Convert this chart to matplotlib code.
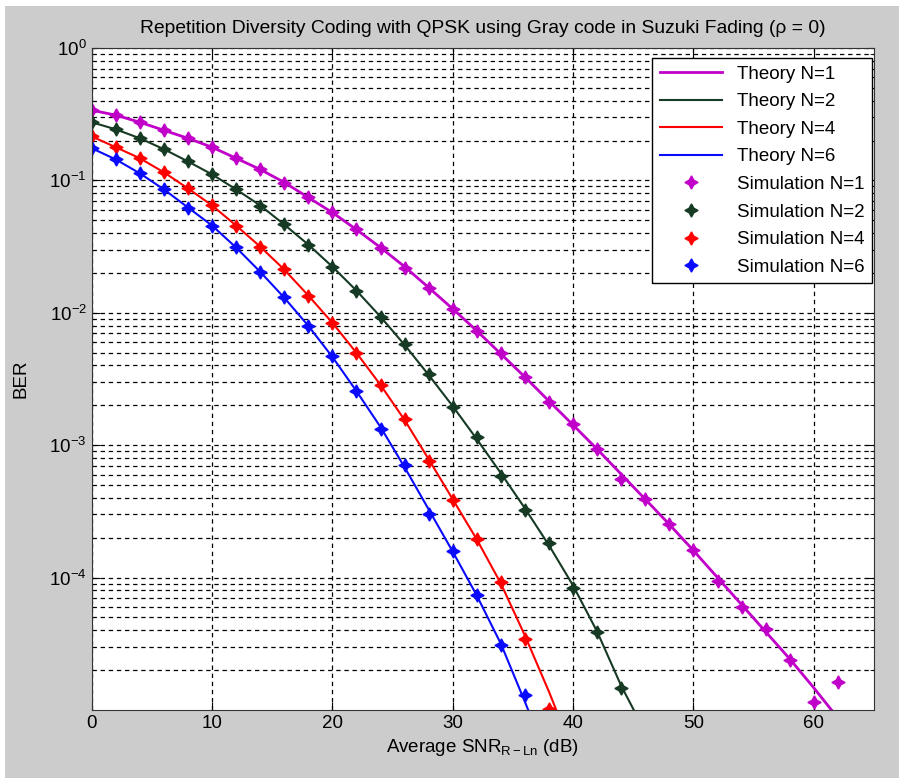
import numpy as np
import matplotlib
matplotlib.use('Agg')
import matplotlib.pyplot as plt
from matplotlib.patches import Rectangle

# SNR grids (dB) for simulation points
snr_n1 = np.arange(0, 63, 2)
snr_n2 = np.arange(0, 45, 2)
snr_n4 = np.arange(0, 39, 2)
snr_n6 = np.arange(0, 37, 2)
# theory grids run one step past the bottom of the axes
snr_th_n1 = np.arange(0, 63, 2)
snr_th_n2 = np.arange(0, 47, 2)
snr_th_n4 = np.arange(0, 41, 2)
snr_th_n6 = np.arange(0, 39, 2)

th_n1 = [0.339, 0.311, 0.275, 0.239, 0.208, 0.178, 0.147, 0.121, 0.0966, 0.0743,
         0.0572, 0.0425, 0.0311, 0.0223, 0.0155, 0.0107, 0.00731, 0.00489, 0.00327,
         0.00215, 0.00142, 9.33e-4, 6.03e-4, 3.90e-4, 2.52e-4, 1.60e-4, 1.0e-4,
         6.24e-5, 3.90e-5, 2.43e-5, 1.47e-5, 8.7e-6]
th_n2 = [0.275, 0.243, 0.208, 0.172, 0.139, 0.111, 0.0855, 0.0647, 0.0464, 0.0327,
         0.0223, 0.0147, 0.00933, 0.00572, 0.00339, 0.00197, 0.00111, 6.14e-4,
         3.33e-4, 1.75e-4, 8.70e-5, 3.90e-5, 1.52e-5, 6.8e-6]
th_n4 = [0.215, 0.178, 0.147, 0.115, 0.0870, 0.0647, 0.0456, 0.0316, 0.0212, 0.0135,
         0.00840, 0.00498, 0.00285, 0.00155, 7.83e-4, 3.90e-4, 1.94e-4, 9.01e-5,
         3.64e-5, 1.37e-5, 4.8e-6]
th_n6 = [0.175, 0.144, 0.113, 0.0855, 0.0624, 0.0456, 0.0311, 0.0204, 0.0130,
         0.00797, 0.00464, 0.00256, 0.00137, 6.81e-4, 3.27e-4, 1.57e-4, 7.31e-5,
         3.16e-5, 1.15e-5, 4.04e-6]

sim_n1 = [0.339, 0.311, 0.275, 0.239, 0.208, 0.178, 0.147, 0.121, 0.0958, 0.0743,
          0.0577, 0.0429, 0.0311, 0.0219, 0.0155, 0.0107, 0.00731, 0.00498, 0.00327,
          0.00212, 0.00144, 9.33e-4, 5.52e-4, 3.90e-4, 2.56e-4, 1.63e-4, 9.49e-5,
          6.03e-5, 4.11e-5, 2.39e-5, 1.15e-5, 1.63e-5]
sim_n2 = [0.275, 0.243, 0.208, 0.172, 0.139, 0.111, 0.0855, 0.0636, 0.0468, 0.0327,
          0.0223, 0.0147, 0.00933, 0.00582, 0.00345, 0.00196, 0.00115, 5.82e-4,
          3.25e-4, 1.81e-4, 8.40e-5, 3.90e-5, 1.47e-5]
sim_n4 = [0.216, 0.178, 0.147, 0.115, 0.0869, 0.0647, 0.0456, 0.0316, 0.0214, 0.0135,
          0.00840, 0.00494, 0.00285, 0.00157, 7.57e-4, 3.86e-4, 1.96e-4, 9.33e-5,
          3.45e-5, 1.02e-5]
sim_n6 = [0.175, 0.144, 0.113, 0.0855, 0.0624, 0.0456, 0.0316, 0.0205, 0.0131,
          0.00797, 0.00468, 0.00256, 0.00132, 7.05e-4, 3.0e-4, 1.60e-4, 7.37e-5,
          3.11e-5, 1.30e-5]

labels_th = ['Theory N=1', 'Theory N=2', 'Theory N=4', 'Theory N=6']
labels_sim = ['Simulation N=1', 'Simulation N=2', 'Simulation N=4', 'Simulation N=6']
colors = ['#c000c8', '#163a24', '#ff0000', '#0a0aff']

narrow = ['Liberation Sans Narrow', 'Liberation Sans', 'DejaVu Sans']
plt.rcParams['mathtext.fontset'] = 'custom'
plt.rcParams['mathtext.rm'] = 'Liberation Sans'
plt.rcParams['mathtext.it'] = 'Liberation Sans'

fig = plt.figure(figsize=(8.99, 7.78), dpi=100, facecolor='white')
fig.patches.append(Rectangle((5 / 899, 0), 1, 1 - 6 / 778, transform=fig.transFigure,
                             facecolor='#cccccc', edgecolor='none', zorder=-10))
ax = fig.add_axes([91.7 / 899, 1 - 710 / 778, (874 - 91.7) / 899, (710 - 48) / 778])

th_snrs = [snr_th_n1, snr_th_n2, snr_th_n4, snr_th_n6]
ths = [th_n1, th_n2, th_n4, th_n6]
snrs = [snr_n1, snr_n2, snr_n4, snr_n6]
sims = [sim_n1, sim_n2, sim_n4, sim_n6]
widths = [2.0, 1.5, 1.5, 1.5]

for s, t, c, lw, lab in zip(th_snrs, ths, colors, widths, labels_th):
    ax.semilogy(s, t, '-', color=c, lw=lw, label=lab)
for s, y, c, lab in zip(snrs, sims, colors, labels_sim):
    ax.semilogy(s, y, linestyle='none', marker=(4, 1, 0), ms=9.5, color=c, label=lab)

ax.set_xlim(0, 65)
ax.set_ylim(1e-5, 1)
ax.set_xticks([0, 10, 20, 30, 40, 50, 60])
ax.set_yticks([1e-4, 1e-3, 1e-2, 1e-1, 1])
ax.set_yticklabels(['$10^{-4}$', '$10^{-3}$', '$10^{-2}$', '$10^{-1}$', '$10^{0}$'])
ax.grid(True, which='major', color='black', linestyle=(0, (3.5, 3)), lw=0.9)
ax.grid(True, which='minor', axis='y', color='black', linestyle=(0, (3.5, 3)), lw=0.9)
ax.tick_params(which='both', direction='in', top=True, right=True)
ax.tick_params(which='major', length=6, labelsize=13.5)
ax.tick_params(which='minor', length=3)
for lab in ax.get_xticklabels() + ax.get_yticklabels():
    lab.set_family(narrow)
for sp in ax.spines.values():
    sp.set_color('#333333')

ax.set_title('Repetition Diversity Coding with QPSK using Gray code in Suzuki Fading (\u03c1 = 0)',
             family=narrow, fontsize=13.9, pad=11)
ax.set_xlabel('Average SNR$_{\\mathrm{R-Ln}}$ (dB)', family=narrow, fontsize=13.5)
ax.set_ylabel('BER', family=narrow, fontsize=13.5, labelpad=14)

leg = ax.legend(loc='upper right', bbox_to_anchor=(0.9974, 0.985), borderaxespad=0,
                fancybox=False, edgecolor='black', framealpha=1,
                prop={'family': 'Liberation Sans', 'size': 13.5},
                handlelength=3.3, labelspacing=0.56, borderpad=0.4)
leg.get_frame().set_linewidth(1.0)

fig.savefig('out.png', dpi=100, facecolor=fig.get_facecolor())
